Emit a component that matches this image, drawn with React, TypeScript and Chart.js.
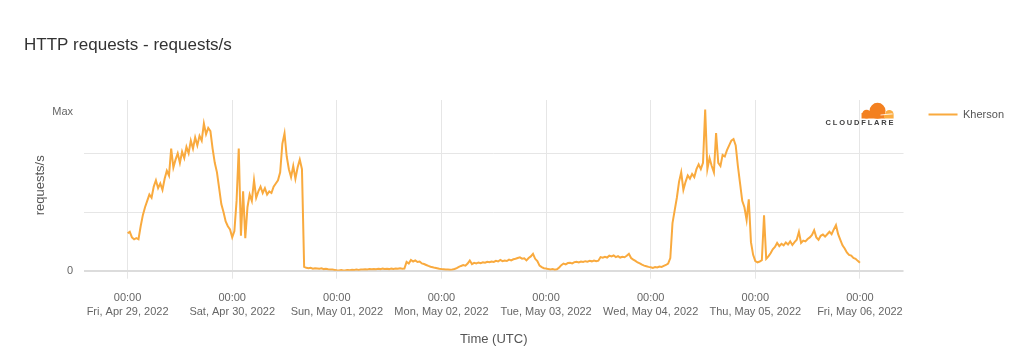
import React, { useEffect, useRef } from 'react';
import { Chart, registerables } from 'chart.js';

Chart.register(...registerables);

const FONT = "'Liberation Sans', Arial, Helvetica, sans-serif";
const SERIES_NAME = 'Kherson';
const TITLE = 'HTTP requests - requests/s';
const STEP_HOURS = 0.5;

const xTickHours = [0, 24, 48, 72, 96, 120, 144, 168];
const xTickTimes = ['00:00', '00:00', '00:00', '00:00', '00:00', '00:00', '00:00', '00:00'];
const xTickDates = [
  'Fri, Apr 29, 2022',
  'Sat, Apr 30, 2022',
  'Sun, May 01, 2022',
  'Mon, May 02, 2022',
  'Tue, May 03, 2022',
  'Wed, May 04, 2022',
  'Thu, May 05, 2022',
  'Fri, May 06, 2022',
];
const yTickValues = [0, 37, 74, 100];
const yTickLabels = ['0', '', '', 'Max'];

// requests/s as % of Max, every 30 minutes (UTC)
const apr29 = [23.6, 24.5, 21, 19.8, 20.5, 19.8, 28, 35, 40, 44, 48, 46, 53, 57, 52, 55, 51, 58, 63, 60, 77, 65, 70, 74, 68, 75, 71, 78, 74, 82, 77, 84, 79, 85, 82, 92.7, 86, 90, 88, 77, 68, 62, 52, 42, 37, 31, 28, 26];
const apr30 = [21, 25, 44, 77, 22, 50, 20.5, 40, 48, 44, 57, 46, 50, 53, 49, 52, 48, 50, 49, 53, 55, 57, 62, 80, 86.5, 72, 64, 59, 66, 58, 65, 70, 64, 2.4, 1.8, 1.5, 1.8, 1.3, 1.6, 1.4, 1.2, 1.5, 1.0, 1.2, 0.9, 0.8, 0.7, 0.5];
const may01 = [0.3, 0.2, 0.4, 0.2, 0.3, 0.5, 0.3, 0.6, 0.5, 0.7, 0.5, 0.8, 0.7, 0.9, 0.7, 1.0, 0.9, 1.1, 0.9, 1.2, 1.0, 1.3, 1.1, 1.2, 1.0, 1.3, 1.1, 1.4, 1.2, 1.5, 1.3, 1.4, 5.5, 4.5, 6.8, 5.8, 6.5, 5.5, 5.8, 4.6, 4.2, 3.6, 3.0, 2.5, 2.2, 1.8, 1.5, 1.2];
const may02 = [1.0, 0.9, 0.7, 0.8, 0.6, 0.8, 1.1, 1.6, 2.4, 3.0, 3.5, 3.2, 4.5, 6.4, 4.2, 5.0, 4.6, 5.2, 4.8, 5.3, 5.0, 5.6, 5.3, 5.8, 5.5, 6.2, 5.8, 6.8, 6.0, 6.4, 6.1, 7.0, 6.5, 7.2, 7.5, 8.0, 8.4, 7.6, 7.8, 6.5, 8.0, 9.0, 10.6, 7.5, 6.0, 3.2, 2.3, 1.6];
const may03 = [1.4, 1.0, 0.8, 1.1, 0.6, 0.9, 2.0, 3.5, 4.5, 4.0, 4.8, 5.0, 4.6, 5.4, 5.6, 5.2, 5.8, 5.5, 6.0, 5.7, 6.2, 5.9, 6.4, 6.0, 6.3, 8.6, 8.2, 8.8, 8.3, 9.5, 9.0, 9.6, 8.6, 9.2, 8.3, 8.8, 8.5, 9.4, 10.6, 8.0, 7.0, 6.2, 5.2, 4.6, 3.8, 3.2, 2.8, 2.4];
const may04 = [2.2, 1.8, 2.3, 2.0, 2.6, 2.4, 3.0, 3.6, 4.5, 8.0, 30, 38, 46, 56, 62, 51, 56, 60, 58, 61, 59, 64, 67, 64, 68, 101.6, 64, 71, 66, 62, 86.8, 68, 66, 73, 72, 76, 79, 82, 83, 79, 66, 55, 44, 40, 32, 45, 18, 10];
const may05 = [6.0, 5.2, 5.8, 6.6, 35, 7.5, 9.0, 11.0, 13.5, 15.0, 17.5, 15.5, 17.0, 16.0, 17.8, 16.5, 18.5, 16.2, 18.0, 19.5, 24.5, 17.5, 19.0, 18.5, 20.0, 21.0, 22.5, 25.5, 21.0, 19.5, 22.0, 22.8, 21.5, 23.0, 24.5, 23.0, 26.0, 28.7, 23.0, 19.5, 16.0, 14.0, 11.5, 10.0, 9.5, 8.0, 7.5, 6.2, 5.0];

const requests = [...apr29, ...apr30, ...may01, ...may02, ...may03, ...may04, ...may05];

const logoPlugin = {
  id: 'cfLogo',
  afterDraw(chart: any) {
    const { ctx, chartArea } = chart;
    const r = chartArea.right;
    const t = chartArea.top;
    ctx.save();
    // cloud
    ctx.fillStyle = '#F38020';
    ctx.beginPath();
    ctx.arc(r - 26, t + 10.8, 8, 0, Math.PI * 2);
    ctx.arc(r - 37, t + 14.2, 4.4, 0, Math.PI * 2);
    ctx.fill();
    ctx.fillRect(r - 42, t + 13, 23, 5.5);
    ctx.fillStyle = '#FBAD41';
    ctx.beginPath();
    ctx.arc(r - 14.2, t + 14.2, 4.3, Math.PI, Math.PI * 2);
    ctx.fill();
    ctx.fillRect(r - 19.5, t + 14.2, 9.6, 4.3);
    ctx.strokeStyle = '#ffffff';
    ctx.lineWidth = 0.8;
    ctx.beginPath();
    ctx.moveTo(r - 23, t + 15);
    ctx.lineTo(r - 11, t + 13.8);
    ctx.stroke();
    // wordmark
    ctx.fillStyle = '#404041';
    ctx.font = `bold 7.5px ${FONT}`;
    ctx.textBaseline = 'middle';
    ctx.textAlign = 'left';
    const word = 'CLOUDFLARE';
    const w = ctx.measureText(word).width;
    const spacing = Math.max(0, (68 - w) / (word.length - 1));
    let x = r - 78;
    for (const ch of word) {
      ctx.fillText(ch, x, t + 23.3);
      x += ctx.measureText(ch).width + spacing;
    }
    ctx.restore();
  },
};

export default function App() {
  const canvasRef = useRef<HTMLCanvasElement | null>(null);

  useEffect(() => {
    if (!canvasRef.current) return;
    const data = requests.map((v, i) => ({ x: i * STEP_HOURS, y: v }));
    const chart = new Chart(canvasRef.current, {
      type: 'line',
      data: {
        datasets: [
          {
            label: SERIES_NAME,
            data,
            borderColor: '#F9AA3E',
            backgroundColor: '#F9AA3E',
            borderWidth: 2,
            pointRadius: 0,
            pointHoverRadius: 0,
            tension: 0,
            fill: false,
          },
        ],
      },
      options: {
        animation: false,
        responsive: false,
        maintainAspectRatio: false,
        layout: { padding: { left: 24, right: 6, top: 0, bottom: 0 } },
        plugins: {
          title: {
            display: true,
            text: TITLE,
            align: 'start',
            color: '#333333',
            font: { size: 17, family: FONT, weight: 'normal' },
            padding: { top: 34.8, bottom: 44.8 },
          },
          legend: {
            position: 'right',
            align: 'start',
            fullSize: true,
            title: { display: true, text: '', font: { size: 12, family: FONT }, padding: { top: 69.6, bottom: 0 } },
            labels: {
              usePointStyle: true,
              pointStyle: 'line',
              pointStyleWidth: 29,
              padding: 25,
              color: '#555555',
              font: { size: 11, family: FONT },
            },
          },
          tooltip: { enabled: false },
        },
        scales: {
          x: {
            type: 'linear',
            min: -10,
            max: 178,
            afterBuildTicks: (axis: any) => {
              axis.ticks = xTickHours.map((v) => ({ value: v }));
            },
            afterFit: (axis: any) => {
              axis.height = 89.3;
            },
            ticks: {
              autoSkip: false,
              maxRotation: 0,
              padding: 12.5,
              color: '#666666',
              font: { size: 11, family: FONT, lineHeight: 14 / 11 },
              callback: (_v: any, i: number) => [xTickTimes[i], xTickDates[i]],
            },
            grid: { color: '#e6e6e6', lineWidth: 1, tickLength: 8, drawTicks: true },
            border: { display: false },
            title: {
              display: true,
              text: 'Time (UTC)',
              color: '#555555',
              font: { size: 13, family: FONT },
              padding: { top: 0, bottom: 13.2 },
            },
          },
          y: {
            min: 0,
            max: 107.6,
            afterBuildTicks: (axis: any) => {
              axis.ticks = yTickValues.map((v) => ({ value: v }));
            },
            afterFit: (axis: any) => {
              axis.width = 60;
            },
            ticks: {
              autoSkip: false,
              padding: 11,
              color: '#666666',
              font: { size: 11, family: FONT },
              callback: (_v: any, i: number) => yTickLabels[i],
            },
            grid: {
              drawTicks: false,
              color: (ctx: any) =>
                ctx.tick && ctx.tick.value === 100 ? 'rgba(0,0,0,0)' : ctx.tick && ctx.tick.value === 0 ? '#dcdcdc' : '#e6e6e6',
              lineWidth: (ctx: any) => (ctx.tick && ctx.tick.value === 0 ? 2 : 1),
            },
            border: { display: false },
            title: {
              display: true,
              text: 'requests/s',
              color: '#555555',
              font: { size: 13, family: FONT },
              padding: { top: 8.2, bottom: 0 },
            },
          },
        },
      },
      plugins: [logoPlugin],
    } as any);
    return () => chart.destroy();
  }, []);

  return (
    <div style={{ position: 'fixed', left: 0, top: 0, width: 1020, height: 360, background: '#ffffff' }}>
      <canvas ref={canvasRef} width={1020} height={360} style={{ display: 'block' }} />
    </div>
  );
}
